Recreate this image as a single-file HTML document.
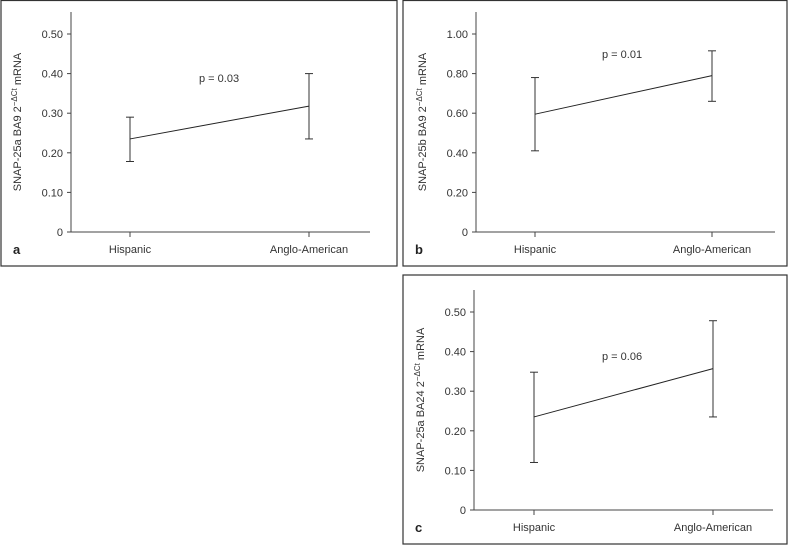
<!DOCTYPE html>
<html><head><meta charset="utf-8"><style>
body{margin:0;background:#fff;width:788px;height:545px;overflow:hidden}
svg{font-family:"Liberation Sans","DejaVu Sans",sans-serif}
</style></head><body>
<svg id="s" width="788" height="545" xmlns="http://www.w3.org/2000/svg"></svg>
<script>
const categories=["Hispanic","Anglo-American"];
const meansA=[0.235,0.318], lowA=[0.178,0.235], highA=[0.29,0.40];
const meansB=[0.595,0.79], lowB=[0.41,0.66], highB=[0.915,0.915];
const meansC=[0.235,0.357], lowC=[0.12,0.235], highC=[0.348,0.478];
const ticksA=["0","0.10","0.20","0.30","0.40","0.50"];
const tickValsA=[0,0.1,0.2,0.3,0.4,0.5];
const ticksB=["0","0.20","0.40","0.60","0.80","1.00"];
const tickValsB=[0,0.2,0.4,0.6,0.8,1.0];
const pA="p = 0.03", pB="p = 0.01", pC="p = 0.06";
highB[0]=0.78;
const S=document.getElementById('s');
const NS="http://www.w3.org/2000/svg";
function mk(t,a,txt){const e=document.createElementNS(NS,t);for(const k in a)e.setAttribute(k,a[k]);if(txt!=null)e.textContent=txt;S.appendChild(e);return e;}
function panel(o){
 const g=mk('rect',{x:o.bx,y:o.by,width:o.bw,height:o.bh,fill:'none',stroke:'#333','stroke-width':1.2});
 
 
 const y=v=>o.y0-(v/o.ymax)*o.span;
 const x=i=>[o.x1,o.x2][i];
 let l=mk('line',{x1:o.ax,y1:o.atop,x2:o.ax,y2:o.y0,stroke:'#444'});
 
 
 l=mk('line',{x1:o.ax,y1:o.y0,x2:o.ax+299,y2:o.y0,stroke:'#444'});
 
 
 o.tv.forEach((v,i)=>{
  mk('line',{x1:o.ax-4,y1:y(v),x2:o.ax,y2:y(v),stroke:'#444'});
  const t=mk('text',{x:o.ax-8,y:y(v)+4,'text-anchor':'end','font-size':11,fill:'#333'},o.tl[i]);
  
  
 });
 categories.forEach((c,i)=>{
  mk('line',{x1:x(i),y1:o.y0,x2:x(i),y2:o.y0+5,stroke:'#444'});
  const t=mk('text',{x:x(i),y:o.y0+21,'text-anchor':'middle','font-size':11,fill:'#333'},c);
  
  
  const e=mk('line',{x1:x(i),y1:y(o.lo[i]),x2:x(i),y2:y(o.hi[i]),stroke:'#333'});
  
  
  mk('line',{x1:x(i)-4,y1:y(o.lo[i]),x2:x(i)+4,y2:y(o.lo[i]),stroke:'#333'});
  mk('line',{x1:x(i)-4,y1:y(o.hi[i]),x2:x(i)+4,y2:y(o.hi[i]),stroke:'#333'});
 });
 const m=mk('line',{x1:x(0),y1:y(o.m[0]),x2:x(1),y2:y(o.m[1]),stroke:'#222'});
 
 
 let t=mk('text',{x:o.px,y:o.py,'font-size':11,fill:'#333'},o.p);
 
 
 t=mk('text',{x:o.bx+12,y:o.y0+22,'font-size':13,'font-weight':'bold',fill:'#222'},o.id);
 
 
 const cy=(o.atop+o.y0)/2;
 t=mk('text',{x:o.ax-50,y:cy,'text-anchor':'middle','font-size':11,fill:'#333',transform:`rotate(-90 ${o.ax-50} ${cy})`});
 
 
 t.innerHTML=o.title+' 2<tspan dy="-4" font-size="8">\u2212\u0394Ct</tspan><tspan dy="4"> mRNA</tspan>';
}
panel({id:'a',bx:1,by:0.5,bw:396,bh:265.5,ax:71,y0:232,atop:12,span:198,ymax:0.5,x1:130,x2:309,tv:tickValsA,tl:ticksA,m:meansA,lo:lowA,hi:highA,p:pA,px:199,py:82,title:'SNAP-25a BA9'});
panel({id:'b',bx:403,by:0.5,bw:384,bh:265.5,ax:476,y0:232,atop:12,span:198,ymax:1.0,x1:535,x2:712,tv:tickValsB,tl:ticksB,m:meansB,lo:lowB,hi:highB,p:pB,px:602,py:58,title:'SNAP-25b BA9'});
panel({id:'c',bx:403,by:275,bw:384,bh:269,ax:474,y0:510,atop:290,span:198,ymax:0.5,x1:534,x2:713,tv:tickValsA,tl:ticksA,m:meansC,lo:lowC,hi:highC,p:pC,px:602,py:360,title:'SNAP-25a BA24'});
</script>
</body></html>
